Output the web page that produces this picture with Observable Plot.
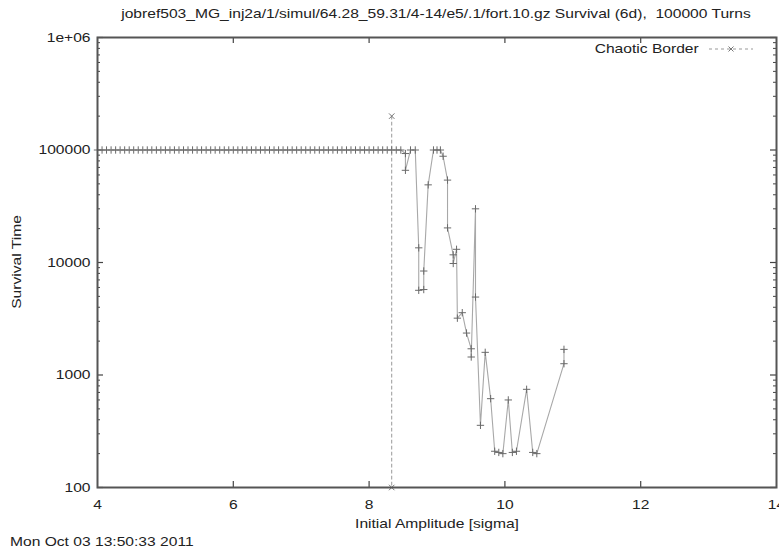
<!DOCTYPE html>
<html><head><meta charset="utf-8">
<script src="https://cdn.jsdelivr.net/npm/d3@7"></script>
<script src="https://cdn.jsdelivr.net/npm/@observablehq/plot@0.6"></script>
<style>
body{margin:0;background:#fff;font-family:"Liberation Sans",Arial,sans-serif;}
#wrap{position:relative;width:779px;height:549px;overflow:hidden;}
.t{position:absolute;font-size:13px;color:#222;white-space:pre;line-height:1;}
</style></head><body><div id="wrap"></div>
<script>
// ---- data ----
const amplitude = [
  4.000,4.067,4.133,4.200,4.267,4.333,4.400,4.467,4.533,4.600,4.667,4.733,4.800,4.867,4.933,
  5.000,5.067,5.133,5.200,5.267,5.333,5.400,5.467,5.533,5.600,5.667,5.733,5.800,5.867,5.933,
  6.000,6.067,6.133,6.200,6.267,6.333,6.400,6.467,6.533,6.600,6.667,6.733,6.800,6.867,6.933,
  7.000,7.067,7.133,7.200,7.267,7.333,7.400,7.467,7.533,7.600,7.667,7.733,7.800,7.867,7.933,
  8.000,8.067,8.133,8.200,8.267,8.333,8.400,8.467,
  8.535,8.535,8.610,8.680,8.731,8.731,8.805,8.805,8.870,8.948,9.000,9.050,9.090,9.155,9.155,
  9.239,9.239,9.288,9.300,9.372,9.435,9.504,9.504,9.567,9.567,9.640,9.710,9.790,9.850,9.910,
  9.970,10.050,10.110,10.170,10.320,10.410,10.470,10.870,10.870
];
const survival = [
  1e5,1e5,1e5,1e5,1e5,1e5,1e5,1e5,1e5,1e5,1e5,1e5,1e5,1e5,1e5,
  1e5,1e5,1e5,1e5,1e5,1e5,1e5,1e5,1e5,1e5,1e5,1e5,1e5,1e5,1e5,
  1e5,1e5,1e5,1e5,1e5,1e5,1e5,1e5,1e5,1e5,1e5,1e5,1e5,1e5,1e5,
  1e5,1e5,1e5,1e5,1e5,1e5,1e5,1e5,1e5,1e5,1e5,1e5,1e5,1e5,1e5,
  1e5,1e5,1e5,1e5,1e5,1e5,1e5,1e5,
  93000,66000,100000,100000,13500,5660,5750,8400,49000,100000,100000,100000,88000,54000,20300,
  11700,9800,13100,3200,3580,2360,1710,1445,30000,4930,357,1590,616,210,205,
  200,600,205,210,746,205,200,1260,1690
];
const borderAmplitude = [8.333, 8.333];
const borderSurvival = [200000, 100];

const xTicks = [4, 6, 8, 10, 12, 14];
const xTickLabels = ["4", "6", "8", "10", "12", "14"];
const yTicks = [100, 1000, 10000, 100000, 1000000];
const yTickLabels = ["100", "1000", "10000", "100000", "1e+06"];

const titleText = "jobref503_MG_inj2a/1/simul/64.28_59.31/4-14/e5/.1/fort.10.gz Survival (6d),  100000 Turns";
const xLabel = "Initial Amplitude [sigma]";
const yLabel = "Survival Time";
const legendLabel = "Chaotic Border";
const dateText = "Mon Oct 03 13:50:33 2011";

// ---- build ----
const main = amplitude.map((a, i) => ({a, s: survival[i]}));
const border = borderAmplitude.map((a, i) => ({a, s: borderSurvival[i]}));

const W = 779, H = 549, mL = 97, mR = 3, mT = 37, mB = 62;
const pw = W - mL - mR, ph = H - mT - mB;
const SX = 1.2; // horizontal stretch of the reference lettering
const yMinor = [];
for (let e = 2; e < 6; e++) for (let m = 2; m <= 9; m++) yMinor.push(m * 10 ** e);
const xInner = [6, 8, 10, 12];

const chart = Plot.plot({
  width: W, height: H,
  marginLeft: mL, marginRight: mR, marginTop: mT, marginBottom: mB,
  x: {type: "linear", domain: [4, 14]},
  y: {type: "log", domain: [100, 1e6]},
  style: {fontFamily: '"Liberation Sans", Arial, sans-serif', fontSize: "13px", color: "#222", background: "#fff"},
  marks: [
    Plot.axisX({ticks: xTicks, tickSize: 0, tickPadding: 12, tickFormat: d => xTickLabels[xTicks.indexOf(d)], label: null}),
    Plot.axisY({ticks: yTicks, tickSize: 0, tickPadding: 7, tickFormat: d => yTickLabels[yTicks.indexOf(d)], label: null}),
    Plot.tickX(xInner, {x: d => d, insetTop: ph - 6, stroke: "#444", strokeWidth: 1.2}),
    Plot.tickX(xInner, {x: d => d, insetBottom: ph - 6, stroke: "#444", strokeWidth: 1.2}),
    Plot.tickY(yTicks, {y: d => d, insetRight: pw - 6, stroke: "#444", strokeWidth: 1.2}),
    Plot.tickY(yTicks, {y: d => d, insetLeft: pw - 6, stroke: "#444", strokeWidth: 1.2}),
    Plot.tickY(yMinor, {y: d => d, insetRight: pw - 3, stroke: "#444", strokeWidth: 1}),
    Plot.tickY(yMinor, {y: d => d, insetLeft: pw - 3, stroke: "#444", strokeWidth: 1}),
    Plot.line(border, {x: "a", y: "s", stroke: "#999", strokeWidth: 1, strokeDasharray: "3,3"}),
    Plot.dot(border, {x: "a", y: "s", symbol: "times", r: 2.6, stroke: "#777", strokeWidth: 1}),
    Plot.line(main, {x: "a", y: "s", stroke: "#a8a8a8", strokeWidth: 1.1}),
    Plot.dot(main, {x: "a", y: "s", symbol: "plus", r: 2.5, stroke: "#6a6a6a", strokeWidth: 1}),
    Plot.frame({stroke: "#555", strokeWidth: 2})
  ]
});

// stretch tick labels horizontally like the reference lettering
chart.querySelectorAll('g[aria-label*="tick label"] text').forEach(t => {
  const tr = t.getAttribute("transform") || "";
  t.setAttribute("transform", tr + ` scale(${SX},1)`);
});

const wrap = document.getElementById("wrap");
wrap.appendChild(chart);
chart.style.position = "absolute"; chart.style.left = "0"; chart.style.top = "0";

function addText(txt, css) {
  const d = document.createElement("div");
  d.className = "t"; d.textContent = txt;
  Object.assign(d.style, css);
  wrap.appendChild(d);
  return d;
}
addText(titleText, {left: "436px", top: "7px", transform: `translateX(-50%) scaleX(${SX})`});
addText(xLabel, {left: "437px", top: "517px", transform: `translateX(-50%) scaleX(${SX})`});
addText(yLabel, {left: "16px", top: "262px", transform: `translate(-50%,-50%) rotate(-90deg) scaleX(${SX})`});
addText(dateText, {left: "10px", top: "535px", transformOrigin: "0 0", transform: `scaleX(${SX})`});

// legend
const lg = document.createElement("div");
lg.style.cssText = "position:absolute;top:41px;right:22px;display:flex;align-items:center;font-size:13px;color:#222;";
lg.innerHTML = `<span style="display:inline-block;transform-origin:100% 50%;transform:scaleX(${SX})">${legendLabel}</span><svg width="50" height="12" style="margin-left:8px">
<line x1="2" y1="6" x2="46" y2="6" stroke="#999" stroke-dasharray="3,3"/>
<path d="M21.5,3.5L26.5,8.5M26.5,3.5L21.5,8.5" stroke="#777"/></svg>`;
wrap.appendChild(lg);
</script></body></html>
